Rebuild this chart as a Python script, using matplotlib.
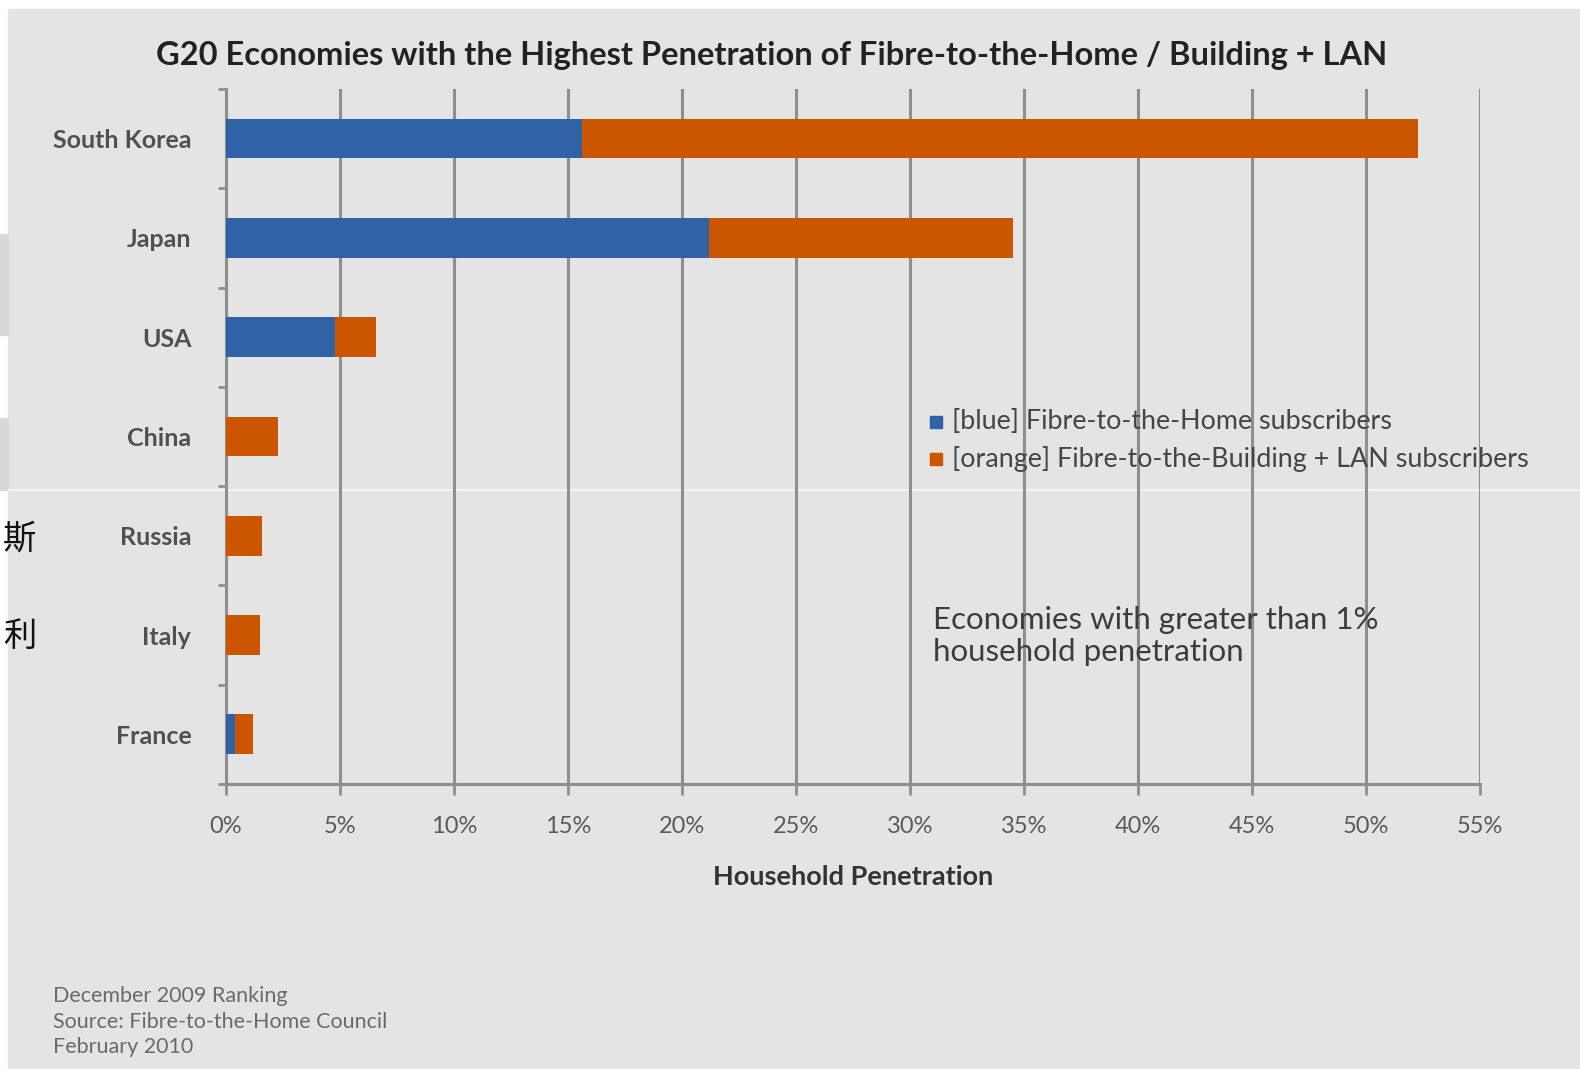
import matplotlib.pyplot as plt
from matplotlib.patches import Rectangle
from matplotlib.ticker import FuncFormatter, MultipleLocator, FixedLocator

countries = ['South Korea', 'Japan', 'USA', 'China', 'Russia', 'Italy', 'France']
ftth = [15.6, 21.2, 4.8, 0.0, 0.0, 0.0, 0.4]          # Fibre-to-the-Home, %
fttb_lan = [36.7, 13.3, 1.8, 2.3, 1.6, 1.5, 0.8]      # Fibre-to-the-Building + LAN, %
x_ticks = list(range(0, 60, 5))

title = 'G20 Economies with the Highest Penetration of Fibre-to-the-Home / Building + LAN'
legend_labels = ['[blue] Fibre-to-the-Home subscribers',
                 '[orange] Fibre-to-the-Building + LAN subscribers']
note = 'Economies with greater than 1%\nhousehold penetration'
footer = ['December 2009 Ranking', 'Source: Fibre-to-the-Home Council', 'February 2010']

BLUE = '#2f63a6'
ORANGE = '#cc5500'
GRID = '#8e8e8e'
W, H = 1580, 1069

plt.rcParams['font.family'] = ['Lato', 'DejaVu Sans']

fig = plt.figure(figsize=(W / 100, H / 100), dpi=100, facecolor='white')

# grey slide panel behind the chart, white strip on the left
fig.patches.append(Rectangle((8 / W, 0), 1, 1 - 9 / H, transform=fig.transFigure,
                             color='#e4e4e4', zorder=-10))
for y0, y1 in [(234, 335), (418, 490)]:
    fig.patches.append(Rectangle((0, 1 - y1 / H), 8 / W, (y1 - y0) / H,
                                 transform=fig.transFigure, color='#d8d8d8', zorder=-10))
fig.patches.append(Rectangle((8 / W, 1 - 490 / H), 1, 1.5 / H, transform=fig.transFigure,
                             color='white', alpha=0.5, zorder=-9))

ax = fig.add_axes([226 / W, 1 - 784 / H, (1480 - 226) / W, (784 - 89) / H])
ax.patch.set_alpha(0)

y = list(range(len(countries)))
ax.barh(y, ftth, height=0.4, color=BLUE, zorder=3)
ax.barh(y, fttb_lan, left=ftth, height=0.4, color=ORANGE, zorder=3)

ax.set_xlim(0, 55)
ax.set_ylim(len(countries) - 0.5, -0.5)
ax.xaxis.set_major_locator(FixedLocator(x_ticks))
ax.xaxis.set_major_formatter(FuncFormatter(lambda v, p: f'{v:.0f}%'))
ax.set_yticks(y)
ax.set_yticklabels(countries)
ax.yaxis.set_minor_locator(MultipleLocator(1, offset=0.5))

ax.grid(axis='x', color=GRID, linewidth=2.2, zorder=1)
ax.set_axisbelow(True)
for side in ['top', 'right']:
    ax.spines[side].set_visible(False)
for side in ['left', 'bottom']:
    ax.spines[side].set_color(GRID)
    ax.spines[side].set_linewidth(2.2)

ax.tick_params(axis='x', length=8, width=2, color=GRID, pad=15,
               labelsize=17, labelcolor='#5a5a5a')
ax.tick_params(axis='y', which='major', length=0, pad=25,
               labelsize=18, labelcolor='#505050')
ax.tick_params(axis='y', which='minor', length=6, width=2, color=GRID)
for lbl in ax.get_yticklabels():
    lbl.set_fontweight('bold')

ax.set_xlabel('Household Penetration', fontsize=19.5, fontweight='bold',
              color='#333333', labelpad=20)

fig.text(772 / W, 1 - 55 / H, title, ha='center', va='center',
         fontsize=23.5, fontweight='bold', color='#222222')

# legend entries drawn as small squares + text
for i, (lab, col) in enumerate(zip(legend_labels, [BLUE, ORANGE])):
    yy = 1 - (422 + 37 * i) / H
    fig.patches.append(Rectangle((930 / W, yy - 6 / H), 12 / W, 12 / H,
                                 transform=fig.transFigure, color=col, zorder=5))
    fig.text(952 / W, yy, lab, ha='left', va='center', fontsize=19.4, color='#454545')

fig.text(933 / W, 1 - 636 / H, note, ha='left', va='center', fontsize=22.5,
         color='#3c3c3c', linespacing=1.15)

for i, line in enumerate(footer):
    fig.text(53 / W, 1 - (996 + 25.5 * i) / H, line, ha='left', va='center',
             fontsize=15.5, color='#6a6a6a')

# stray characters at the left edge
for ch, yy in [('斯', 539), ('利', 636)]:
    fig.text(36 / W, 1 - yy / H, ch, ha='right', va='center', fontsize=24,
             color='#111111', family=['Noto Sans CJK SC', 'DejaVu Sans'])

fig.savefig('out.png', dpi=100, facecolor=fig.get_facecolor())
